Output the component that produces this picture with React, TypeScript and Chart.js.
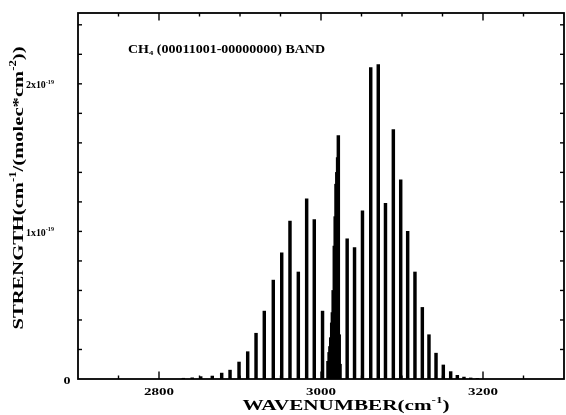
import React, { useEffect, useRef } from "react";
import { Chart, registerables } from "chart.js";

Chart.register(...registerables);

// Line positions (cm^-1) and strengths (units of 1e-19 cm^-1/(molec*cm^-2))
const LINE_WAVENUMBERS = [
  2830, 2841, 2851.5, 2865.8, 2877.4, 2887.7, 2898.8, 2909.5, 2919.8, 2930.0,
  2941.1, 2951.5, 2961.7, 2972.0, 2982.3, 2991.7, 3001.9,
  3008.6, 3010, 3011, 3012, 3013.2, 3014, 3015, 3016.4, 3017.5, 3018.5, 3019.5,
  3020.5, 3021.4, 3022.5, 3023.5,
  3032.3, 3041.4, 3051.2, 3061.4, 3070.7, 3079.6, 3089.3, 3098.4, 3107.0,
  3116.0, 3125.1, 3133.3, 3142.0, 3151.0, 3160.1, 3168.3, 3176.5, 3184.8, 3193,
];
const LINE_STRENGTHS_E19 = [
  0.005, 0.008, 0.016, 0.02, 0.04, 0.06, 0.115, 0.185, 0.31, 0.46,
  0.67, 0.855, 1.07, 0.725, 1.22, 1.08, 0.46,
  0.12, 0.18, 0.22, 0.28, 0.38, 0.45, 0.6, 0.9, 1.1, 1.32, 1.4,
  1.5, 1.65, 0.3, 0.1,
  0.95, 0.89, 1.14, 2.11, 2.13, 1.19, 1.69, 1.35, 1.0,
  0.725, 0.485, 0.3, 0.175, 0.095, 0.05, 0.025, 0.013, 0.007, 0.004,
];

const X_MIN = 2700;
const X_MAX = 3300;
const X_MINOR_STEP = 50;
const X_MAJOR_STEP = 200;
const Y_MIN = 0;
const Y_MAX = 2.48;
const Y_MINOR_STEP = 0.2;

const X_TICK_VALUES = [2800, 3000, 3200];
const X_TICK_LABELS = ["2800", "3000", "3200"];
const Y_TICK_VALUES = [0, 1, 2];
const Y_TICK_LABELS = ["0", "1x10", "2x10"];
const Y_TICK_EXP = ["", "-19", "-19"];

const TITLE = "CH";
const TITLE_SUB = "4";
const TITLE_REST = " (00011001-00000000) BAND";

type Seg = { t: string; s?: "sup" | "sub" };

const FONT_FAMILY = '"Liberation Serif", "Times New Roman", serif';

function drawRich(
  ctx: CanvasRenderingContext2D,
  segs: Seg[],
  cx: number,
  cy: number,
  size: number,
  targetW: number | null,
  rot = 0
) {
  const small = size * 0.62;
  const fontOf = (s?: string) => `bold ${s ? small : size}px ${FONT_FAMILY}`;
  let W = 0;
  const widths: number[] = [];
  for (const seg of segs) {
    ctx.font = fontOf(seg.s);
    const w = ctx.measureText(seg.t).width;
    widths.push(w);
    W += w;
  }
  const sx = targetW ? targetW / W : 1;
  ctx.save();
  ctx.translate(cx, cy);
  ctx.rotate(rot);
  ctx.scale(sx, 1);
  ctx.fillStyle = "#000";
  ctx.textAlign = "left";
  ctx.textBaseline = "alphabetic";
  let x = -W / 2;
  const base = size * 0.33;
  segs.forEach((seg, i) => {
    ctx.font = fontOf(seg.s);
    let y = base;
    if (seg.s === "sup") y = base - size * 0.45;
    if (seg.s === "sub") y = base + size * 0.18;
    ctx.fillText(seg.t, x, y);
    x += widths[i];
  });
  ctx.restore();
}

const framePlugin = {
  id: "framePlugin",
  afterDatasetsDraw(chart: any) {
    const { ctx, chartArea: a, scales } = chart;
    const xs = scales.x;
    const ys = scales.y;
    ctx.save();
    ctx.strokeStyle = "#000";
    ctx.lineCap = "butt";
    const seg = (x1: number, y1: number, x2: number, y2: number) => {
      ctx.beginPath();
      ctx.moveTo(x1, y1);
      ctx.lineTo(x2, y2);
      ctx.stroke();
    };
    // x ticks (inward, bottom & top)
    ctx.lineWidth = 1.4;
    for (let v = X_MIN + X_MINOR_STEP; v < X_MAX; v += X_MINOR_STEP) {
      const px = xs.getPixelForValue(v);
      const major = (v - X_MIN) % X_MAJOR_STEP === 100;
      const len = major ? 7.5 : 3.5;
      seg(px, a.bottom, px, a.bottom - len);
      seg(px, a.top, px, a.top + len);
    }
    // y ticks (inward, left & right)
    for (let k = 1; k * Y_MINOR_STEP < Y_MAX; k++) {
      const v = k * Y_MINOR_STEP;
      const py = ys.getPixelForValue(v);
      seg(a.left, py, a.left + 4, py);
      seg(a.right, py, a.right - 4, py);
    }
    // frame
    ctx.lineWidth = 1.8;
    ctx.strokeRect(a.left, a.top, a.right - a.left, a.bottom - a.top);

    // x tick labels
    X_TICK_VALUES.forEach((v, i) => {
      const px = xs.getPixelForValue(v);
      drawRich(ctx, [{ t: X_TICK_LABELS[i] }], px, a.bottom + 13, 10.5, 30);
    });
    // y tick labels
    Y_TICK_VALUES.forEach((v, i) => {
      const py = ys.getPixelForValue(v);
      if (Y_TICK_EXP[i]) {
        drawRich(
          ctx,
          [{ t: Y_TICK_LABELS[i] }, { t: Y_TICK_EXP[i], s: "sup" }],
          a.left - 38,
          py + 1,
          11,
          28
        );
      } else {
        drawRich(ctx, [{ t: Y_TICK_LABELS[i] }], a.left - 11, py + 1, 11, 7);
      }
    });
    // title inside plot
    drawRich(
      ctx,
      [{ t: TITLE }, { t: TITLE_SUB, s: "sub" }, { t: TITLE_REST }],
      226.5,
      49,
      11.5,
      197
    );
    // x axis title
    drawRich(
      ctx,
      [{ t: "WAVENUMBER(cm" }, { t: "-1", s: "sup" }, { t: ")" }],
      346,
      405,
      14,
      207
    );
    // y axis title
    drawRich(
      ctx,
      [
        { t: "STRENGTH(cm" },
        { t: "-1", s: "sup" },
        { t: "/(molec*cm" },
        { t: "-2", s: "sup" },
        { t: "))" },
      ],
      18,
      188,
      15.5,
      283,
      -Math.PI / 2
    );
    ctx.restore();
  },
};

export default function App() {
  const ref = useRef<HTMLCanvasElement | null>(null);
  useEffect(() => {
    if (!ref.current) return;
    const chart = new Chart(ref.current, {
      type: "bar",
      data: {
        datasets: [
          {
            data: LINE_WAVENUMBERS.map((x, i) => ({ x, y: LINE_STRENGTHS_E19[i] })),
            backgroundColor: "#000",
            borderWidth: 0,
            barThickness: 2.8,
          } as any,
        ],
      },
      options: {
        animation: false,
        responsive: false,
        events: [],
        layout: { padding: { left: 78, right: 2, top: 13, bottom: 36 } },
        scales: {
          x: { type: "linear", min: X_MIN, max: X_MAX, offset: false, display: false },
          y: { type: "linear", min: Y_MIN, max: Y_MAX, display: false },
        },
        plugins: { legend: { display: false }, tooltip: { enabled: false } },
      },
      plugins: [framePlugin],
    });
    return () => chart.destroy();
  }, []);
  return (
    <div
      style={{
        position: "fixed",
        left: 0,
        top: 0,
        width: 566,
        height: 415,
        background: "#fff",
      }}
    >
      <canvas ref={ref} width={566} height={415} />
    </div>
  );
}
